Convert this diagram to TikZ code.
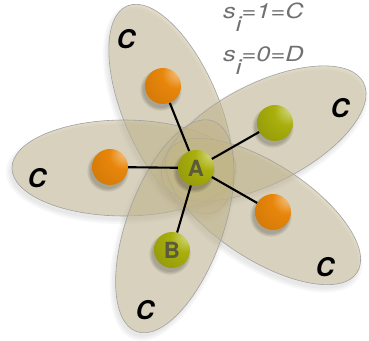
\documentclass[tikz,border=0pt]{standalone}
\usepackage{fontspec}
\setmainfont{TeX Gyre Heros}
\setsansfont{TeX Gyre Heros}
\usetikzlibrary{positioning,backgrounds}
\definecolor{KPetal}{HTML}{C4B78A}
\definecolor{KRim}{HTML}{A0A0A0}
\definecolor{KOrange}{HTML}{E8860A}
\definecolor{KOlive}{HTML}{A9B00C}
\definecolor{KInk}{HTML}{5A5A3C}
\definecolor{KNote}{HTML}{707070}
\pgfdeclareradialshading{orangeball}{\pgfpoint{24bp}{22bp}}{%
  color(0bp)=(white!85!KOrange); color(6bp)=(KOrange!60!white);
  color(20bp)=(KOrange); color(60bp)=(KOrange!85!black); color(90bp)=(KOrange!60!black)}
\pgfdeclareradialshading{oliveball}{\pgfpoint{24bp}{22bp}}{%
  color(0bp)=(white!85!KOlive); color(6bp)=(KOlive!60!white);
  color(20bp)=(KOlive); color(60bp)=(KOlive!80!black); color(90bp)=(KOlive!55!black)}
\tikzset{
  ball/.style={circle,inner sep=0pt,minimum size=1.08cm},
  oball/.style={ball,shading=orangeball},
  gball/.style={ball,shading=oliveball,text=KInk,
                font=\bfseries\fontsize{19}{19}\selectfont},
  petal/.style={fill=KPetal,fill opacity=0.45,draw=KRim,line width=0.5pt},
  clabel/.style={font=\bfseries\itshape\fontsize{22}{22}\selectfont},
  note/.style={text=KNote,inner sep=0pt,anchor=base west,
               font=\itshape\fontsize{17.8}{17.8}\selectfont},
  bond/.style={line width=1.8pt,black}
}
\newcommand{\sline}[2]{\scalebox{1.22}[1]{s\raisebox{-11pt}{i}=#1=#2}}
\begin{document}
\begin{tikzpicture}[x=0.03cm,y=0.03cm]
  \useasboundingbox (0,0) rectangle (369,341);
  % the six agents
  \node[gball] (A) at (196,173) {A};
  \node[oball] (o1) at (163,255) {};
  \node[gball] (g1) at (275,218) {};
  \node[oball] (o2) at (110,174) {};
  \node[oball] (o3) at (273,129) {};
  \node[gball] (B) at (172,91) {B};
  % groups around A
  \begin{scope}[on background layer]
    \foreach \ang/\dist/\rb in {113/64/1.44,180/72/1.44,27/76/1.5,-33/80/1.44,250/62/1.44}{
      \foreach \s in {0.12,0.06,0}
        \fill[black,opacity=0.03,shift={(A)},shift={(-2,-4)},rotate=\ang]
          (\dist,0) ellipse [x radius=3.36cm+\s cm,y radius=\rb cm+\s cm];
    }
    \foreach \ang/\dist/\rb in {113/64/1.44,180/72/1.44,27/76/1.5,-33/80/1.44,250/62/1.44}
      \draw[petal,shift={(A)},rotate=\ang] (\dist,0) ellipse [x radius=3.36cm,y radius=\rb cm];
    \foreach \n in {A,o1,g1,o2,o3,B}{
      \foreach \s in {0.62,0.58,0.54}
        \fill[black,opacity=0.08] ([shift={(-2,-4)}]\n.center) circle (\s cm);
    }
  \end{scope}
  \foreach \n in {o1,g1,o2,o3,B}
    \draw[bond] (A) -- (\n);
  % labels
  \node[clabel] (c1) at (126,302) {C};
  \node[clabel] (c2) at (37,163) {C};
  \node[clabel] (c3) at (340,233) {C};
  \node[clabel] (c4) at (325,74) {C};
  \node[clabel] (c5) at (145,31) {C};
  \node[note] (s1) at (223,322) {\sline{1}{C}};
  \node[note] (s0) at (223,279) {\sline{0}{D}};
\end{tikzpicture}
\end{document}
